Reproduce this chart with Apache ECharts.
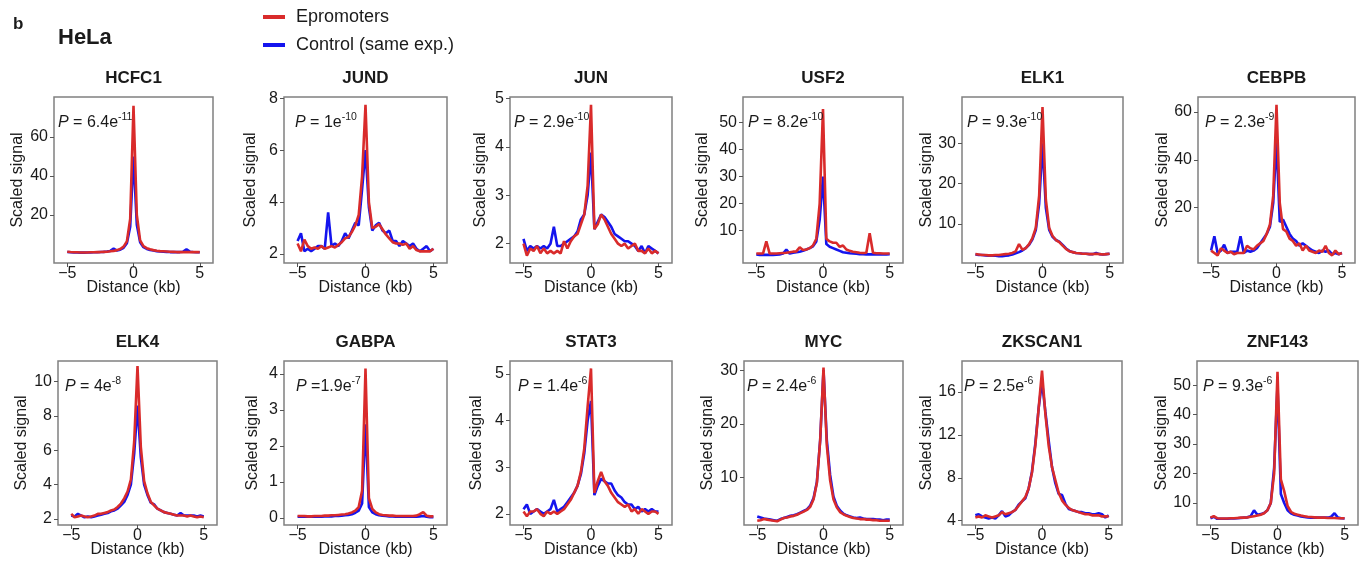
<!DOCTYPE html>
<html>
<head>
<meta charset="utf-8">
<script src="https://cdn.jsdelivr.net/npm/echarts@6/dist/echarts.min.js"></script>
<style>
html,body{margin:0;padding:0;background:#fff;}
#chart{width:1367px;height:567px;}
</style>
</head>
<body>
<div id="chart"></div>
<script>
// ---------------- DATA ----------------
const xs = [-5,-4.75,-4.5,-4.25,-4,-3.75,-3.5,-3.25,-3,-2.75,-2.5,-2.25,-2,-1.75,-1.5,-1.25,-1,-0.75,-0.5,-0.25,0,0.25,0.5,0.75,1,1.25,1.5,1.75,2,2.25,2.5,2.75,3,3.25,3.5,3.75,4,4.25,4.5,4.75,5];
const xTickValues = [-5, 0, 5];

const panelNames = ['HCFC1','JUND','JUN','USF2','ELK1','CEBPB','ELK4','GABPA','STAT3','MYC','ZKSCAN1','ZNF143'];
const pMantissa = ['6.4','1','2.9','8.2','9.3','2.3','4','1.9','1.4','2.4','2.5','9.3'];
const pExponent = ['-11','-10','-10','-10','-10','-9','-8','-7','-6','-6','-6','-6'];
const pEquals = [' = ',' = ',' = ',' = ',' = ',' = ',' = ',' =',' = ',' = ',' = ',' = '];
const yMins = [-4.6, 1.65, 1.6, -2, 0.3, -3.2, 1.65, -0.2, 1.76, 1.2, 3.6, 2.5];
const yMaxs = [80.5, 8.05, 5.03, 59.5, 41.5, 66.3, 11.2, 4.36, 5.28, 31.7, 18.9, 58.2];
const yTicks = [[20,40,60],[2,4,6,8],[2,3,4,5],[10,20,30,40,50],[10,20,30],[20,40,60],
                [2,4,6,8,10],[0,1,2,3,4],[2,3,4,5],[10,20,30],[4,8,12,16],[10,20,30,40,50]];

const hcfc1Red  = [1.2,1.0,0.9,0.9,0.8,0.8,0.8,0.9,0.9,1.0, 1.0,1.1,1.2,1.4,1.6,2.0,2.6,3.8,6.5,18, 76, 20,7,4,3,2.4,2.0,1.7,1.5,1.4,1.3, 1.2,1.1,1.0,1.0,1.0,1.0,1.0,1.0,1.0,1.0];
const hcfc1Blue = [1.0,0.9,0.8,0.8,0.7,0.7,0.8,0.8,0.9,0.9, 1.0,1.1,1.3,1.6,2.8,1.8,2.2,3.2,5.5,14, 50, 15,6,3.5,2.6,2.1,1.8,1.5,1.3,1.2,1.1, 1.0,1.0,1.0,1.0,1.2,2.4,1.2,1.0,0.9,0.9];
const jundRed   = [2.4,2.1,2.55,2.3,2.2,2.25,2.2,2.3,2.2,2.25, 2.3,2.25,2.35,2.45,2.6,2.65,2.85,3.1,3.5,5.0, 7.75, 4.0,3.0,3.05,3.15,2.95,2.75,2.6,2.45,2.4,2.4, 2.35,2.4,2.2,2.3,2.15,2.1,2.1,2.1,2.1,2.2];
const jundBlue  = [2.5,2.8,2.1,2.2,2.1,2.2,2.3,2.3,2.2,3.6, 2.3,2.4,2.3,2.5,2.8,2.6,2.9,3.2,3.1,4.5, 6.0, 3.8,2.9,3.1,3.2,2.9,2.8,2.9,2.5,2.5,2.3, 2.5,2.4,2.3,2.4,2.2,2.1,2.2,2.3,2.1,2.2];
const junRed    = [2.0,1.75,1.9,1.85,1.95,1.8,1.9,1.8,1.85,1.8, 1.85,1.8,2.05,1.9,2.05,2.15,2.2,2.4,2.6,3.2, 4.87, 2.3,2.4,2.6,2.5,2.35,2.2,2.1,2.0,1.95,2.0, 1.9,1.95,2.0,1.85,1.85,1.8,1.9,1.8,1.85,1.8];
const junBlue   = [2.1,1.85,1.95,1.9,1.95,1.9,1.95,1.9,2.0,2.35, 1.95,1.95,2.0,2.05,2.1,2.15,2.25,2.5,2.6,3.0, 3.88, 2.3,2.45,2.6,2.55,2.45,2.35,2.2,2.15,2.1,2.05, 2.05,2.0,1.95,1.85,1.95,1.8,1.95,1.9,1.85,1.8];
const usf2Red   = [1.5,1.5,1.5,6.0,1.5,1.5,1.5,1.6,1.7,1.8, 2.0,2.2,2.3,3.8,2.8,3.0,3.5,4.5,7.0,20, 55, 7.0,6.0,5.5,5.5,4.0,4.5,3.0,2.5,2.2,2.0, 1.8,1.7,1.8,9.0,1.8,1.6,1.6,1.5,1.5,1.5];
const usf2Blue  = [1.2,1.0,1.0,1.0,1.0,1.0,1.1,1.2,1.5,3.0, 1.5,1.8,2.0,2.2,2.5,3.0,3.5,4.2,6.0,14, 30, 5.0,4.0,3.5,3.0,2.5,2.0,1.8,1.6,1.5,1.4, 1.3,1.3,1.2,1.2,1.2,1.2,1.2,1.2,1.2,1.3];
const elk1Red   = [2.5,2.4,2.3,2.3,2.2,2.2,2.3,2.3,2.4,2.5, 2.6,2.8,3.2,5.0,3.6,4.0,5.0,6.5,9.0,17, 39, 16,9.0,7.0,6.0,5.5,4.6,3.8,3.2,3.0,2.8, 2.7,2.6,2.6,2.5,2.5,2.6,2.5,2.4,2.5,2.6];
const elk1Blue  = [2.4,2.3,2.3,2.2,2.1,2.1,2.1,2.0,2.0,2.1, 2.2,2.4,2.7,3.0,3.4,4.0,4.8,6.2,8.5,15, 30, 14,8.5,6.8,6.0,5.6,4.8,3.9,3.3,3.0,2.8, 2.7,2.6,2.6,2.5,2.5,2.8,2.5,2.4,2.5,2.6];
const cebpbRed  = [2,1,0,3,2,1,1.5,0.5,1,1, 1,4,3,2.5,4,5,6,9,13,25, 63, 22,11,10,7,6,4,5,2,4,2, 1.5,1,2,1.5,4,1,0,2,0.5,1];
const cebpbBlue = [2,8,1,2,4.5,1,1.5,1.5,1.5,8, 1,2,1.5,2,3,5,7,9,12,22, 48, 14,15,12,9,7,6,4,5,4,3, 2,1.5,1,2,1.5,2,0.5,1,0.5,1];
const elk4Red   = [2.3,2.1,2.15,2.2,2.15,2.1,2.15,2.2,2.3,2.3, 2.35,2.4,2.5,2.55,2.7,2.9,3.2,3.6,4.3,6.5, 10.9, 6.2,4.2,3.5,3.0,2.8,2.6,2.5,2.4,2.35,2.3, 2.25,2.2,2.2,2.2,2.15,2.2,2.15,2.1,2.15,2.1];
const elk4Blue  = [2.2,2.15,2.3,2.2,2.1,2.15,2.1,2.15,2.2,2.25, 2.3,2.35,2.45,2.5,2.6,2.8,3.0,3.4,4.0,5.8, 8.6, 5.6,4.0,3.4,2.95,2.85,2.6,2.5,2.4,2.35,2.3, 2.25,2.2,2.35,2.2,2.2,2.2,2.2,2.15,2.2,2.15];
const gabpaRed  = [0.05,0.05,0.05,0.04,0.04,0.05,0.05,0.05,0.06,0.06, 0.07,0.07,0.08,0.09,0.1,0.12,0.15,0.2,0.3,0.75, 4.15, 0.55,0.25,0.15,0.1,0.08,0.07,0.06,0.06,0.05,0.05, 0.05,0.05,0.05,0.05,0.06,0.1,0.16,0.06,0.04,0.04];
const gabpaBlue = [0.03,0.03,0.03,0.03,0.03,0.03,0.03,0.03,0.04,0.04, 0.04,0.05,0.05,0.06,0.07,0.08,0.1,0.14,0.2,0.4, 2.6, 0.3,0.15,0.1,0.07,0.06,0.05,0.04,0.04,0.03,0.03, 0.03,0.03,0.03,0.03,0.03,0.04,0.05,0.03,0.02,0.02];
const stat3Red  = [2.05,1.95,2.05,2.05,2.1,2.0,1.95,2.05,2.0,2.05, 2.0,2.05,2.1,2.2,2.3,2.45,2.6,2.9,3.4,4.3, 5.12, 2.45,2.7,2.9,2.7,2.6,2.45,2.35,2.25,2.2,2.15, 2.2,2.05,2.1,2.0,2.1,2.05,2.0,2.05,2.05,2.0];
const stat3Blue = [2.1,2.2,2.0,2.05,2.1,2.05,2.0,2.05,2.1,2.3, 2.05,2.1,2.15,2.25,2.35,2.45,2.6,2.85,3.3,4.0, 4.42, 2.4,2.6,2.75,2.7,2.65,2.65,2.5,2.4,2.35,2.25, 2.2,2.2,2.1,2.15,2.05,2.1,2.05,2.1,2.05,2.05];
const mycRed    = [2.0,2.1,2.3,2.2,2.1,2.0,1.9,2.2,2.5,2.6, 2.8,2.9,3.1,3.4,3.7,4.0,4.6,6.0,9.0,17, 30.5, 16,9.5,6.0,4.5,3.6,3.2,2.9,2.7,2.5,2.4, 2.3,2.3,2.2,2.2,2.1,2.1,2.0,2.0,2.0,2.0];
const mycBlue   = [2.8,2.6,2.4,2.3,2.2,2.1,2.0,2.3,2.5,2.7, 2.9,3.0,3.2,3.5,3.8,4.1,4.8,6.2,9.2,17, 30, 17,10.5,6.5,4.8,3.9,3.3,3.0,2.8,2.6,2.5, 2.6,2.4,2.3,2.3,2.3,2.2,2.2,2.1,2.2,2.2];
const zkscan1Red  = [4.3,4.4,4.3,4.5,4.4,4.3,4.4,4.5,4.8,4.6, 4.7,4.8,5.0,5.4,5.8,6.2,7.0,8.5,11,14.5, 18, 14,11,9,7.8,6.6,5.9,5.5,5.2,5.0,4.9, 4.8,4.7,4.6,4.6,4.5,4.5,4.5,4.4,4.4,4.4];
const zkscan1Blue = [4.5,4.6,4.4,4.3,4.2,4.3,4.2,4.5,4.9,4.4, 4.5,4.8,5.0,5.5,5.8,6.1,7.0,8.6,11.2,14.5, 17, 14.2,11.5,9.0,7.5,6.5,6.4,5.6,5.1,5.0,4.9, 4.8,4.8,4.7,4.7,4.6,4.6,4.7,4.6,4.3,4.5];
const znf143Red  = [5.0,5.5,4.8,4.7,4.7,4.7,4.8,4.8,4.9,5.0, 5.0,5.1,5.3,5.5,5.7,6.0,6.5,7.5,10,20, 54.5, 18,14,9,7,6.3,6.0,5.7,5.5,5.3,5.2, 5.1,5.0,5.0,5.0,4.9,4.9,4.9,4.8,4.8,4.8];
const znf143Blue = [4.8,5.3,4.6,4.6,4.6,4.6,4.7,4.7,4.8,4.9, 5.0,5.1,5.5,7.5,6.0,6.2,6.6,7.5,10,22, 50, 13,10,7.5,6.5,6.0,5.7,5.4,5.2,5.1,5.0, 5.0,5.0,5.0,5.0,5.0,5.3,6.5,5.0,4.8,4.7];

const redSeries  = [hcfc1Red, jundRed, junRed, usf2Red, elk1Red, cebpbRed, elk4Red, gabpaRed, stat3Red, mycRed, zkscan1Red, znf143Red];
const blueSeries = [hcfc1Blue, jundBlue, junBlue, usf2Blue, elk1Blue, cebpbBlue, elk4Blue, gabpaBlue, stat3Blue, mycBlue, zkscan1Blue, znf143Blue];

const seriesNames = ['Epromoters', 'Control (same exp.)'];

// ---------------- LAYOUT / STYLE ----------------
const layout = [
  [54,97,159,166],[284,97,163,166],[510,97,162,166],[743,97,160,166],[962,97,161,166],[1198,97,157,166],
  [58,361,159,164],[284,361,163,164],[510,361,162,164],[744,361,159,164],[962,361,160,164],[1197,361,161,164]
];
const pOffset = [4,11,4,5,5,7,7,12,8,3,2,6];
const yNameGap = [28,25,21,32,25,26,28,23,25,28,26,25];
const FONT = '"Liberation Sans", Arial, Helvetica, sans-serif';
const RED = '#d92b2b';
const BLUE = '#1414ee';
const TXT = '#1a1a1a';

const grids = [], xAxes = [], yAxes = [], series = [], graphics = [];

const minusFmt = v => (v < 0 ? '\u2212' + Math.abs(v) : String(v));

panelNames.forEach((name, k) => {
  const [L, T, W, H] = layout[k];
  grids.push({left: L, top: T, width: W, height: H, show: true, borderColor: '#808080', borderWidth: 1.5,
              backgroundColor: 'transparent', containLabel: false, outerBoundsMode: 'none'});
  xAxes.push({
    gridIndex: k, type: 'value', min: -6, max: 6, position: 'bottom',
    axisLine: {show: false, onZero: false}, splitLine: {show: false},
    axisTick: {show: true, length: 4, lineStyle: {color: '#555', width: 1}, customValues: xTickValues},
    axisLabel: {customValues: xTickValues, formatter: minusFmt, fontSize: 16, color: TXT, fontFamily: FONT, margin: 3},
    name: 'Distance (kb)', nameLocation: 'middle', nameGap: 17, nameMoveOverlap: false,
    nameTextStyle: {fontSize: 16, color: TXT, fontFamily: FONT}
  });
  yAxes.push({
    gridIndex: k, type: 'value', min: yMins[k], max: yMaxs[k], position: 'left',
    axisLine: {show: false, onZero: false}, splitLine: {show: false},
    axisTick: {show: true, length: 4, lineStyle: {color: '#555', width: 1}, customValues: yTicks[k]},
    axisLabel: {customValues: yTicks[k], fontSize: 16, color: TXT, fontFamily: FONT, margin: 6},
    name: 'Scaled signal', nameLocation: 'middle', nameGap: yNameGap[k],
    nameTextStyle: {fontSize: 16, color: TXT, fontFamily: FONT}
  });
  series.push({
    type: 'line', name: seriesNames[1], xAxisIndex: k, yAxisIndex: k,
    data: xs.map((x, i) => [x, blueSeries[k][i]]),
    showSymbol: false, symbol: 'none', lineStyle: {width: 2.6, color: BLUE}, itemStyle: {color: BLUE},
    z: 2, silent: true, animation: false
  });
  series.push({
    type: 'line', name: seriesNames[0], xAxisIndex: k, yAxisIndex: k,
    data: xs.map((x, i) => [x, redSeries[k][i]]),
    showSymbol: false, symbol: 'none', lineStyle: {width: 2.6, color: RED}, itemStyle: {color: RED},
    z: 3, silent: true, animation: false
  });
  // panel title
  graphics.push({type: 'text', x: L + W / 2, y: T - 19, z: 10,
    style: {text: name, font: 'bold 17px ' + FONT, fill: TXT, align: 'center', verticalAlign: 'middle'}});
  // P value
  graphics.push({type: 'text', x: L + pOffset[k], y: T + 26, z: 10,
    style: {
      text: '{i|P}' + pEquals[k] + pMantissa[k] + 'e{s|' + pExponent[k] + '}',
      font: '16px ' + FONT, fill: TXT, align: 'left', verticalAlign: 'middle', lineHeight: 22,
      rich: {
        i: {fontStyle: 'italic', fontSize: 16, fontFamily: FONT, fill: TXT, lineHeight: 22},
        s: {fontSize: 10.5, fontFamily: FONT, fill: TXT, verticalAlign: 'top', lineHeight: 12}
      }
    }});
});

graphics.push({type: 'text', x: 13, y: 24, style: {text: 'b', font: 'bold 17px ' + FONT, fill: TXT, align: 'left', verticalAlign: 'middle'}});
graphics.push({type: 'text', x: 58, y: 38, style: {text: 'HeLa', font: 'bold 22px ' + FONT, fill: TXT, align: 'left', verticalAlign: 'middle'}});

const option = {
  animation: false,
  backgroundColor: '#ffffff',
  textStyle: {fontFamily: FONT},
  legend: {
    data: seriesNames, orient: 'vertical', left: 258, top: 3, itemGap: 10,
    icon: 'rect', itemWidth: 22, itemHeight: 4,
    textStyle: {fontSize: 18, color: TXT, fontFamily: FONT, padding: [0, 0, 0, 6]},
    selectedMode: false
  },
  grid: grids, xAxis: xAxes, yAxis: yAxes, series: series, graphic: graphics
};

const chart = echarts.init(document.getElementById('chart'), null, {renderer: 'canvas'});
chart.setOption(option);
</script>
</body>
</html>
